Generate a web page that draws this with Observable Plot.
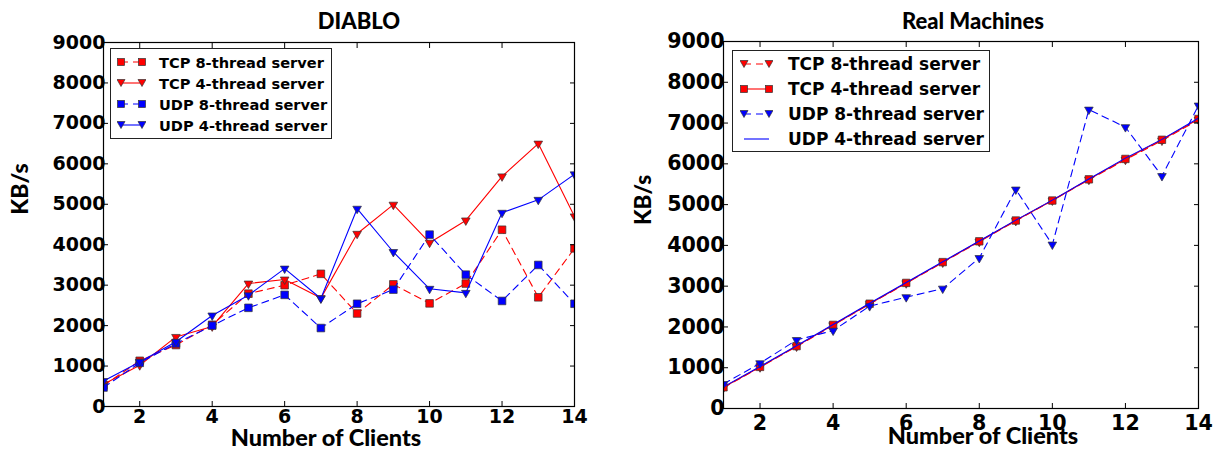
<!DOCTYPE html>
<html>
<head>
<meta charset="utf-8">
<script src="https://cdn.jsdelivr.net/npm/d3@7"></script>
<script src="https://cdn.jsdelivr.net/npm/@observablehq/plot@0.6"></script>
<style>
  html, body { margin: 0; padding: 0; background: #fff; }
  #wrap { position: relative; width: 1220px; height: 451px; overflow: hidden; }
  .panel { position: absolute; top: 0; }
  .t { position: absolute; font-family: Lato, "Open Sans", sans-serif; font-weight: 900; color: #000; white-space: nowrap; }
  .legend { position: absolute; background: #fff; border: 1px solid #222; font-family: "DejaVu Sans", sans-serif; font-weight: bold; }
  .legend .row { position: absolute; left: 0; display: flex; align-items: center; }
  .legend svg { display: block; }
</style>
</head>
<body>
<div id="wrap"></div>
<script>
// ---- data ----
const clients = [1, 2, 3, 4, 5, 6, 7, 8, 9, 10, 11, 12, 13, 14];
const xTicks = [2, 4, 6, 8, 10, 12, 14];
const yTicks = [0, 1000, 2000, 3000, 4000, 5000, 6000, 7000, 8000, 9000];

const diabloTcp8 = [520, 1130, 1520, 2020, 2790, 3000, 3280, 2300, 3020, 2550, 3040, 4370, 2700, 3910];
const diabloTcp4 = [550, 1020, 1720, 1980, 3040, 3140, 2680, 4270, 4990, 4050, 4600, 5690, 6500, 4700];
const diabloUdp8 = [470, 1080, 1560, 2000, 2440, 2760, 1940, 2540, 2890, 4250, 3260, 2610, 3500, 2540];
const diabloUdp4 = [630, 1100, 1600, 2250, 2750, 3410, 2670, 4890, 3820, 2910, 2810, 4790, 5110, 5740];

const realTcp8 = [510, 1010, 1520, 2040, 2560, 3070, 3580, 4090, 4600, 5100, 5610, 6100, 6570, 7080];
const realTcp4 = [520, 1020, 1530, 2050, 2570, 3080, 3590, 4100, 4610, 5100, 5620, 6120, 6590, 7100];
const realUdp8 = [600, 1110, 1680, 1910, 2510, 2730, 2940, 3690, 5370, 4020, 7330, 6900, 5700, 7430];
const realUdp4 = [530, 1030, 1540, 2060, 2580, 3090, 3600, 4110, 4620, 5110, 5630, 6140, 6600, 7120];

const titles = ["DIABLO", "Real Machines"];
const xLabel = "Number of Clients";
const yLabel = "KB/s";

const diabloSeries = [
  {name: "TCP 8-thread server", values: diabloTcp8, color: "#ff0000", dash: true, symbol: "square"},
  {name: "TCP 4-thread server", values: diabloTcp4, color: "#ff0000", dash: false, symbol: "triangle"},
  {name: "UDP 8-thread server", values: diabloUdp8, color: "#0000ff", dash: true, symbol: "square"},
  {name: "UDP 4-thread server", values: diabloUdp4, color: "#0000ff", dash: false, symbol: "triangle"}
];
const realSeries = [
  {name: "TCP 8-thread server", values: realTcp8, color: "#ff0000", dash: true, symbol: "triangle"},
  {name: "TCP 4-thread server", values: realTcp4, color: "#ff0000", dash: false, symbol: "square"},
  {name: "UDP 8-thread server", values: realUdp8, color: "#0000ff", dash: true, symbol: "triangle"},
  {name: "UDP 4-thread server", values: realUdp4, color: "#0000ff", dash: false, symbol: null}
];

const DASH = "7,5";

function makePanel(series, cfg) {
  const marks = [];
  for (const s of series) {
    const rows = clients.map((c, i) => ({x: c, y: s.values[i]}));
    marks.push(Plot.line(rows, {x: "x", y: "y", stroke: s.color, strokeWidth: 1.1,
      strokeDasharray: s.dash ? DASH : null, clip: "frame"}));
    if (s.symbol) {
      marks.push(Plot.dot(rows, {x: "x", y: "y", symbol: s.symbol,
        r: s.symbol === "square" ? cfg.sqR : cfg.triR,
        rotate: s.symbol === "triangle" ? 180 : 0,
        fill: s.color, stroke: "#333", strokeWidth: 0.7, clip: "frame"}));
    }
  }
  marks.push(Plot.frame({stroke: "#000", strokeWidth: 1.2}));
  marks.push(Plot.axisY(yTicks, {anchor: "left", tickSize: -5, tickPadding: cfg.yPad, label: null,
    tickFormat: d => String(d)}));
  marks.push(Plot.axisY(yTicks, {anchor: "right", tickSize: -5, label: null, tickFormat: () => ""}));
  marks.push(Plot.axisX(xTicks, {anchor: "bottom", tickSize: -5, tickPadding: cfg.xPad, label: null,
    tickFormat: d => String(d)}));
  marks.push(Plot.axisX(xTicks, {anchor: "top", tickSize: -5, label: null, tickFormat: () => ""}));
  return Plot.plot({
    width: 610, height: 451,
    marginLeft: cfg.ml, marginRight: cfg.mr, marginTop: cfg.mt, marginBottom: cfg.mb,
    x: {domain: [1, 14]},
    y: {domain: [0, 9000]},
    style: {fontFamily: "'DejaVu Sans', sans-serif", fontWeight: "bold", fontSize: cfg.fs + "px", color: "#000", background: "transparent", overflow: "visible"},
    marks
  });
}

const wrap = document.getElementById("wrap");

const left = makePanel(diabloSeries, {ml: 103, mr: 36, mt: 42, mb: 45, fs: 19, yPad: 3, xPad: 8, sqR: 4.3, triR: 3.2});
left.classList.add("panel"); left.style.left = "0px";
wrap.appendChild(left);

const right = makePanel(realSeries, {ml: 113, mr: 22, mt: 41, mb: 43, fs: 20.6, yPad: 4, xPad: 12, sqR: 4.2, triR: 3.2});
right.classList.add("panel"); right.style.left = "610px";
wrap.appendChild(right);

function addText(txt, x, y, size, rotate) {
  const d = document.createElement("div");
  d.className = "t";
  d.textContent = txt;
  d.style.fontSize = size + "px";
  d.style.left = x + "px";
  d.style.top = y + "px";
  d.style.transform = "translate(-50%,-50%)" + (rotate ? " rotate(-90deg)" : "");
  wrap.appendChild(d);
}
addText(titles[0], 359, 20, 22);
addText(titles[1], 973, 20, 22);
addText(xLabel, 326, 437, 23.5);
addText(xLabel, 983, 435, 23.5);
addText(yLabel, 19, 189, 23);
addText(yLabel, 642, 200, 22.5, true);
// rotate the left y label too
wrap.lastChild.previousSibling.style.transform = "translate(-50%,-50%) rotate(-90deg)";

function addLegend(series, cfg) {
  const box = document.createElement("div");
  box.className = "legend";
  box.style.left = cfg.x + "px"; box.style.top = cfg.y + "px";
  box.style.width = cfg.w + "px"; box.style.height = cfg.h + "px";
  box.style.fontSize = cfg.fs + "px";
  series.forEach((s, i) => {
    const row = document.createElement("div");
    row.className = "row";
    row.style.top = (cfg.row0 + i * cfg.dy - 12) + "px";
    row.style.height = "24px";
    row.style.left = cfg.swX + "px";
    const ns = "http://www.w3.org/2000/svg";
    const svg = document.createElementNS(ns, "svg");
    svg.setAttribute("width", cfg.swW + 8); svg.setAttribute("height", 24);
    svg.style.marginLeft = "-4px";
    const line = document.createElementNS(ns, "line");
    line.setAttribute("x1", 4); line.setAttribute("x2", 4 + cfg.swW);
    line.setAttribute("y1", 12); line.setAttribute("y2", 12);
    line.setAttribute("stroke", s.color); line.setAttribute("stroke-width", 1.1);
    if (s.dash) line.setAttribute("stroke-dasharray", "7,5");
    svg.appendChild(line);
    if (s.symbol) {
      [4, 4 + cfg.swW].forEach(cx => {
        let el;
        if (s.symbol === "square") {
          el = document.createElementNS(ns, "rect");
          el.setAttribute("x", cx - 3.5); el.setAttribute("y", 8.5);
          el.setAttribute("width", 7); el.setAttribute("height", 7);
        } else {
          el = document.createElementNS(ns, "path");
          el.setAttribute("d", `M${cx - 4},${8.5}L${cx + 4},${8.5}L${cx},${15.5}Z`);
        }
        el.setAttribute("fill", s.color); el.setAttribute("stroke", "#333"); el.setAttribute("stroke-width", 0.7);
        svg.appendChild(el);
      });
    }
    row.appendChild(svg);
    const lab = document.createElement("span");
    lab.textContent = s.name;
    lab.style.marginLeft = (cfg.txtX - cfg.swX - cfg.swW - 4) + "px";
    row.appendChild(lab);
    box.appendChild(row);
  });
  wrap.appendChild(box);
}
addLegend(diabloSeries, {x: 110, y: 48, w: 220, h: 89, fs: 14.6, row0: 13, dy: 21.1, swX: 10, swW: 21, txtX: 48});
addLegend(realSeries, {x: 732, y: 50, w: 256, h: 100, fs: 17, row0: 13, dy: 25, swX: 11, swW: 25, txtX: 55});
</script>
</body>
</html>
